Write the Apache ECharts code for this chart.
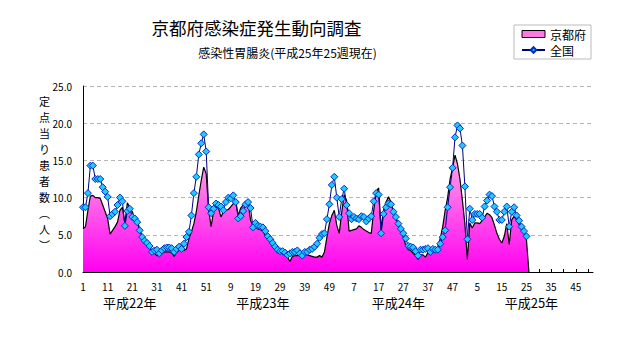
<!DOCTYPE html>
<html><head><meta charset="utf-8">
<script src="https://cdn.jsdelivr.net/npm/echarts@6/dist/echarts.min.js"></script>
<style>html,body{margin:0;padding:0;background:#fff}#c{width:632px;height:348px}</style>
</head><body><div id="c"></div>
<script>
// ---- data ----
const yearNames = ['平成22年', '平成23年', '平成24年', '平成25年'];
const weeksPerYear = [52, 52, 52, 52];
const yearLabelIndex = [19, 73, 128, 182];
const yTickValues = [0, 5, 10, 15, 20, 25];

// 京都府 (定点当り), 2010 w1 .. 2013 w25, then blank (drawn as 0 like the source)
const kyoto = [
  5.8, 6.1, 8.3, 10.2, 10.3, 10.0, 10.0, 9.9, 9.0, 8.1,
  7.2, 5.1, 5.6, 6.1, 6.7, 8.3, 8.7, 6.5, 9.3, 8.7,
  8.1, 7.2, 7.0, 5.8, 4.8, 4.3, 3.8, 3.4, 2.7, 2.5,
  2.2, 2.2, 2.6, 2.7, 2.7, 2.7, 2.6, 2.1, 2.7, 2.9,
  2.9, 2.9, 3.1, 4.5, 5.4, 6.5, 8.1, 10.3, 12.3, 14.1,
  13.2, 8.3,
  6.1, 8.2, 8.7, 8.6, 7.4, 8.1, 8.3, 8.4, 8.8, 9.2,
  9.5, 7.6, 8.6, 9.0, 9.2, 9.4, 7.0, 6.1, 6.0, 5.8,
  5.7, 5.5, 4.9, 4.5, 4.0, 3.4, 3.0, 2.6, 2.5, 2.5,
  2.2, 2.0, 1.4, 2.1, 2.2, 2.2, 2.3, 2.5, 2.4, 2.3,
  2.2, 2.1, 2.0, 2.0, 2.2, 2.0, 2.7, 4.7, 6.5, 7.6,
  8.3, 6.3,
  5.2, 8.0, 10.4, 9.6, 5.5, 5.6, 5.7, 5.8, 6.2, 6.0,
  5.7, 5.5, 5.3, 5.2, 8.3, 10.8, 11.3, 5.8, 8.3, 9.4,
  10.1, 9.4, 8.1, 7.2, 6.3, 5.4, 4.7, 3.6, 3.0, 2.9,
  2.5, 2.2, 1.7, 2.3, 2.3, 2.0, 2.6, 2.3, 2.7, 2.6,
  3.4, 4.5, 6.1, 8.3, 10.0, 12.5, 14.0, 15.7, 14.5, 12.5,
  9.6, 6.5,
  1.7, 6.6, 5.9, 6.6, 6.6, 6.5, 6.9, 7.4, 7.9, 7.7,
  7.3, 6.3, 5.2, 4.4, 3.9, 4.8, 6.5, 3.7, 7.0, 7.5,
  7.0, 6.4, 5.8, 5.2, 4.3,
  0
];

// 全国 (定点当り), 2010 w1 .. 2013 w25
const national = [
  8.7, 8.7, 10.6, 14.3, 14.3, 12.5, 12.5, 12.5, 11.4, 10.8,
  10.1, 7.5, 7.8, 8.1, 9.0, 10.0, 9.5, 6.2, 8.2, 8.5,
  7.4, 7.2, 6.7, 5.6, 4.7, 4.2, 3.9, 3.5, 2.7, 2.9,
  3.0, 2.5, 2.9, 3.2, 3.3, 3.3, 3.2, 2.7, 3.1, 3.4,
  3.1, 3.8, 4.7, 5.4, 7.6, 10.6, 12.8, 15.8, 17.3, 18.5,
  16.2, 8.7,
  7.9, 8.5, 9.2, 9.0, 8.8, 8.3, 9.4, 10.0, 9.9, 10.3,
  9.4, 7.2, 7.5, 8.2, 9.1, 9.4, 8.6, 6.0, 6.6, 6.2,
  6.1, 6.0, 5.5, 4.8, 4.4, 3.9, 3.4, 3.0, 2.8, 2.8,
  2.6, 2.3, 2.5, 2.7, 2.7, 2.9, 2.5, 2.2, 2.7, 2.7,
  3.0, 3.1, 3.4, 3.8, 4.6, 5.1, 5.2, 7.1, 9.1, 11.7,
  12.8, 10.0,
  7.4, 9.8, 11.2, 9.0, 7.9, 7.1, 7.4, 7.2, 7.1, 7.5,
  7.4, 6.8, 7.2, 7.5, 9.5, 10.6, 10.4, 5.2, 7.8, 8.7,
  9.2, 9.1, 8.1, 7.4, 6.5, 5.8, 5.2, 4.5, 3.5, 3.4,
  3.3, 2.8, 2.2, 3.0, 3.0, 3.1, 3.2, 2.7, 3.1, 3.0,
  3.0, 3.8, 4.7, 5.6, 8.7, 11.4, 14.0, 18.1, 19.7, 19.3,
  17.0, 11.5,
  4.4, 8.5, 7.0, 7.8, 7.8, 7.8, 7.3, 8.8, 9.6, 10.4,
  10.2, 8.8, 8.1, 7.0, 7.0, 8.1, 8.8, 6.1, 8.1, 8.7,
  7.6, 6.9, 6.1, 5.5, 4.8
];

const yAxisTitleChars = ['定', '点', '当', 'り', '患', '者', '数', '︵', '人', '︶'];

// ---- build categories ----
const categories = [];
weeksPerYear.forEach(n => { for (let w = 1; w <= n; w++) categories.push(String(w)); });

const FONT = '"Noto Sans CJK JP", "Noto Sans", sans-serif';
const chart = echarts.init(document.getElementById('c'), null, { renderer: 'svg' });

chart.setOption({
  animation: false,
  backgroundColor: '#fff',
  textStyle: { fontFamily: FONT, color: '#000' },
  grid: { left: 83, right: 39, top: 86, bottom: 76, containLabel: false },
  graphic: [
    { type: 'text', x: 256.5, y: 27.5,
      style: { text: '京都府感染症発生動向調査', font: '17.5px ' + FONT, fill: '#000',
               align: 'center', verticalAlign: 'middle', textAlign: 'center', textVerticalAlign: 'middle' } },
    { type: 'text', x: 287.5, y: 52.5,
      style: { text: '感染性胃腸炎(平成25年25週現在)', font: '12px ' + FONT, fill: '#000',
               align: 'center', verticalAlign: 'middle', textAlign: 'center', textVerticalAlign: 'middle' } },
    { type: 'text', x: 44.5, y: 172.5,
      style: { text: yAxisTitleChars.join('\n'), font: '11px ' + FONT, fill: '#000',
               lineHeight: 16, align: 'center', verticalAlign: 'middle', textAlign: 'center', textVerticalAlign: 'middle' } }
  ],
  legend: {
    orient: 'vertical', left: 514, top: 25,
    borderColor: '#bbbbbb', borderWidth: 1, padding: [3, 5, 3, 7],
    itemWidth: 23, itemHeight: 7, itemGap: 4,
    textStyle: { fontSize: 12, fontFamily: FONT, color: '#000' },
    data: [
      { name: '京都府', icon: 'rect', itemStyle: { color: '#ff77e0', borderColor: '#000', borderWidth: 1 } },
      { name: '全国' }
    ]
  },
  xAxis: [
    {
      type: 'category', data: categories, boundaryGap: false,
      axisLine: { lineStyle: { color: '#000', width: 1 } },
      axisTick: { inside: true, length: 3, interval: 4, lineStyle: { color: '#000' } },
      axisLabel: { interval: 9, margin: 9, fontSize: 10, color: '#000', fontFamily: FONT },
      splitLine: { show: false }
    },
    {
      type: 'category', data: categories, boundaryGap: false, position: 'bottom',
      axisLine: { show: false }, axisTick: { show: false }, splitLine: { show: false },
      axisLabel: {
        margin: 24, fontSize: 13, color: '#000', fontFamily: FONT,
        interval: (idx) => yearLabelIndex.indexOf(idx) >= 0,
        formatter: (v, idx) => { const k = yearLabelIndex.indexOf(idx); return k >= 0 ? yearNames[k] : ''; }
      }
    }
  ],
  yAxis: {
    type: 'value', min: yTickValues[0], max: yTickValues[yTickValues.length - 1], interval: 5,
    axisLine: { show: true, lineStyle: { color: '#000', width: 1 } },
    axisTick: { show: false },
    axisLabel: { margin: 11, fontSize: 10, color: '#000', fontFamily: FONT, formatter: v => v.toFixed(1) },
    splitLine: { show: true, lineStyle: { color: '#b4b4b4', type: [4, 3], width: 1 } }
  },
  series: [
    {
      name: '京都府', type: 'line', xAxisIndex: 0, data: kyoto,
      symbol: 'none', smooth: false,
      itemStyle: { color: '#ff77e0' },
      lineStyle: { color: '#000', width: 1.2 },
      areaStyle: {
        opacity: 1,
        color: new echarts.graphic.LinearGradient(0, 0, 0, 1, [
          { offset: 0, color: '#ffa8e8' },
          { offset: 1, color: '#ff00f0' }
        ])
      },
      z: 2
    },
    {
      name: '全国', type: 'line', xAxisIndex: 0, data: national,
      symbol: 'diamond', symbolSize: 7, showAllSymbol: true,
      lineStyle: { color: '#000080', width: 1 },
      itemStyle: { color: '#22c8ff', borderColor: '#0030c0', borderWidth: 1 },
      z: 3
    }
  ]
});
</script>
</body></html>
